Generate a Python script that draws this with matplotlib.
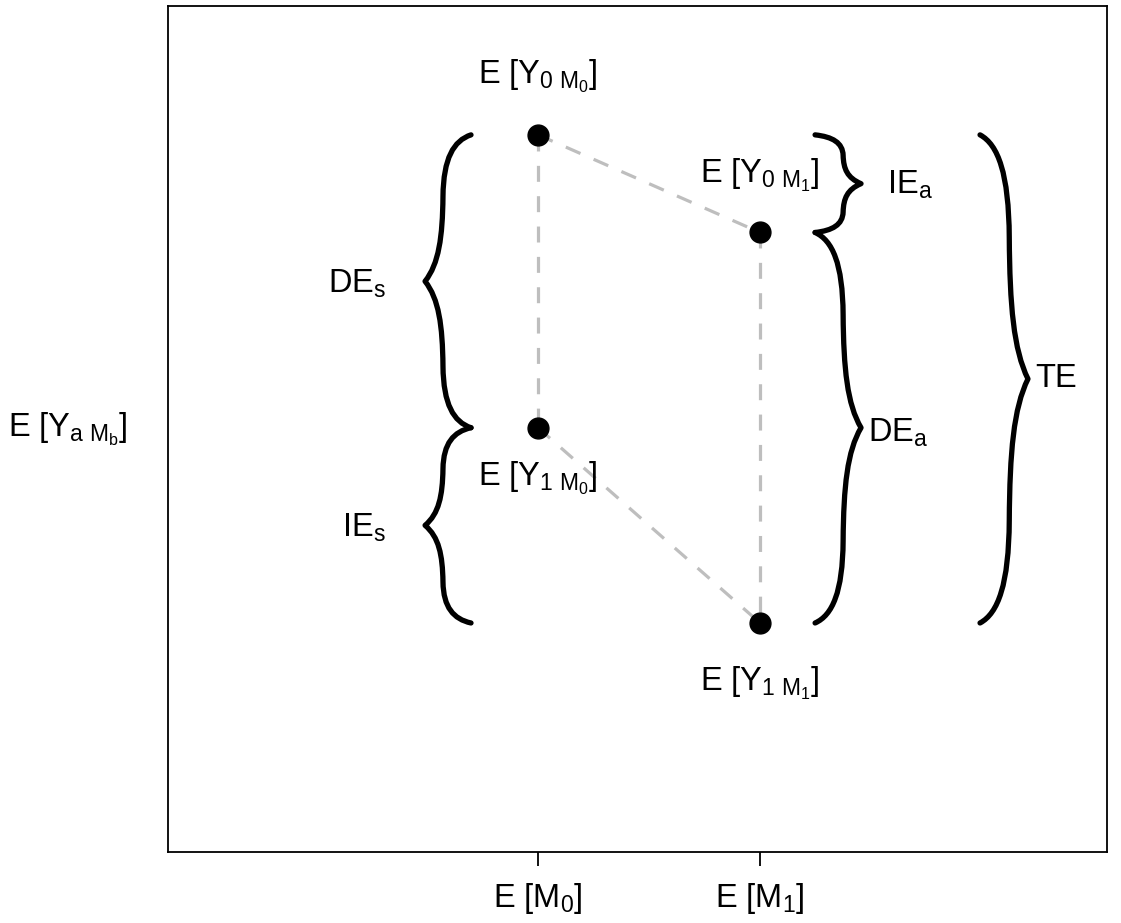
import numpy as np
import matplotlib
matplotlib.use("Agg")
import matplotlib.pyplot as plt
from matplotlib.path import Path
from matplotlib.patches import PathPatch

plt.rcParams['font.family'] = ['Liberation Sans', 'DejaVu Sans']
plt.rcParams['mathtext.fontset'] = 'custom'
plt.rcParams['mathtext.rm'] = 'Liberation Sans'
plt.rcParams['mathtext.it'] = 'Liberation Sans'
plt.rcParams['mathtext.bf'] = 'Liberation Sans:bold'

# mediator levels on the x axis
m_pos = [0, 1]
m_labels = [r'$\mathregular{E\ [M_0]}$', r'$\mathregular{E\ [M_1]}$']

# expected potential outcomes E[Y_a M_b]
point_x = [0, 1, 0, 1]
point_y = [7, 6, 4, 2]
point_labels = [r'$\mathregular{E\ [Y_{0\ M_0}]}$',
                r'$\mathregular{E\ [Y_{0\ M_1}]}$',
                r'$\mathregular{E\ [Y_{1\ M_0}]}$',
                r'$\mathregular{E\ [Y_{1\ M_1}]}$']

# dashed connections between outcomes (point indices)
links = [(0, 1), (0, 2), (2, 3), (1, 3)]

# effects as (lower point, upper point)
effect_names = [r'$\mathregular{DE_s}$', r'$\mathregular{IE_s}$',
                r'$\mathregular{IE_a}$', r'$\mathregular{DE_a}$', 'TE']
effect_span = [(2, 0), (3, 2), (1, 0), (3, 1), (3, 0)]


def brace(ax, x_end, x_tip, y_a, y_b, lw=3.8):
    """Curly brace from y_a to y_b, ends at x_end, pointing to x_tip"""
    ym = (y_a + y_b) / 2.0
    dx = x_tip - x_end

    def pt(u, v, y0):
        return (x_end + u * dx, y0 + v * (ym - y0))

    verts, codes = [], []
    # first half, end -> tip
    half = [(0, 0), (0.38, 0.04), (0.6, 0.16), (0.61, 0.42),
            (0.62, 0.7), (0.7, 0.88), (1.0, 1.0)]
    for i, (u, v) in enumerate(half):
        verts.append(pt(u, v, y_a))
        codes.append(Path.MOVETO if i == 0 else Path.CURVE4)
    # second half, tip -> other end
    for (u, v) in half[-2::-1]:
        verts.append(pt(u, v, y_b))
        codes.append(Path.CURVE4)
    ax.add_patch(PathPatch(Path(verts, codes), fill=False, lw=lw,
                           color='black', capstyle='round', joinstyle='round'))


fig = plt.figure(figsize=(11.21, 9.23), dpi=100)
ax = fig.add_axes([168 / 1121, 1 - 852 / 923, (1107 - 168) / 1121, (852 - 6) / 923])
ax.set_xlim(-1.667, 2.563)
ax.set_ylim(-0.346, 8.32)

for s in ax.spines.values():
    s.set_linewidth(1.3)

for a, b in links:
    ax.plot([point_x[a], point_x[b]], [point_y[a], point_y[b]],
            color='#BEBEBE', lw=2.3, linestyle=(0, (5, 4.5)), zorder=1)

ax.plot(point_x, point_y, 'o', color='black', ms=15, zorder=3)

# labels around the points (offsets in points)
label_off = [(0, 37), (0, 36), (0, -42), (0, -49)]
for i, lab in enumerate(point_labels):
    ax.annotate(lab, (point_x[i], point_y[i]), xytext=label_off[i],
                textcoords='offset points', ha='center', va='baseline',
                fontsize=23.5)

# braces
brace_x = [(-0.302, -0.509), (-0.302, -0.509), (1.248, 1.455),
           (1.248, 1.455), (1.991, 2.207)]
text_off = [(-28, -8), (-28, -8), (19, -7), (5, -10), (5, -6)]
text_ha = ['right', 'right', 'left', 'left', 'left']
for k, name in enumerate(effect_names):
    lo, hi = effect_span[k]
    x_end, x_tip = brace_x[k]
    # draw from the upper end downward
    brace(ax, x_end, x_tip, point_y[hi], point_y[lo])
    ym = (point_y[hi] + point_y[lo]) / 2.0
    ax.annotate(name, (x_tip, ym), xytext=text_off[k],
                textcoords='offset points', ha=text_ha[k], va='baseline',
                fontsize=23.5)

ax.set_xticks(m_pos, m_labels)
ax.set_yticks([])
ax.tick_params(axis='x', length=10, width=1.3, pad=11, labelsize=23.5)

fig.text(68 / 1121, 1 - 437 / 923, r'$\mathregular{E\ [Y_{a\ M_b}]}$',
         ha='center', va='baseline', fontsize=23.5)

fig.savefig('out.png', dpi=100)
